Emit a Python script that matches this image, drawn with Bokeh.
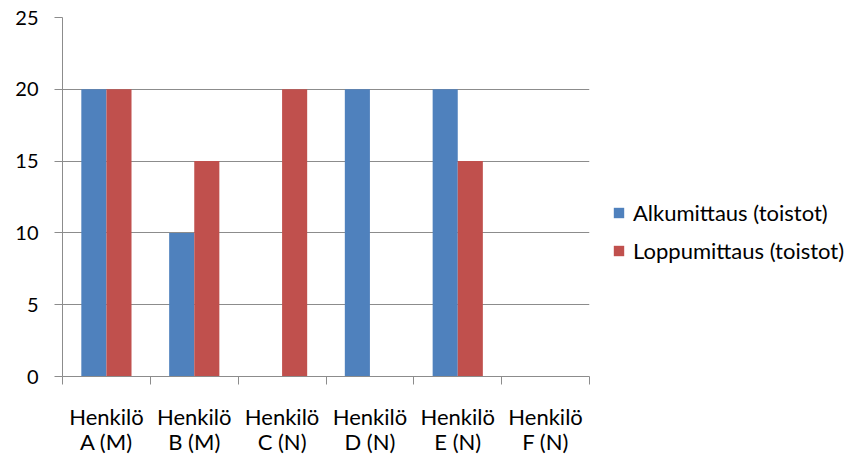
from bokeh.plotting import figure
from bokeh.models import (FixedTicker, Legend, LegendItem, ColumnDataSource, Range1d)
from bokeh.embed import file_html
from bokeh.resources import INLINE

categories = ["Henkilö\nA (M)", "Henkilö\nB (M)", "Henkilö\nC (N)",
              "Henkilö\nD (N)", "Henkilö\nE (N)", "Henkilö\nF (N)"]
series_names = ["Alkumittaus (toistot)", "Loppumittaus (toistot)"]
alku = [20, 10, 0, 20, 20, 0]
loppu = [20, 15, 20, 0, 15, 0]
y_ticks = [0, 5, 10, 15, 20, 25]

BLUE = "#4F81BD"
RED = "#C0504D"
GRID = "#8C8C8C"
FONT = "Lato"

n = len(categories)
centers = [i + 0.5 for i in range(n)]
bar_w = 1 / 3.5

p = figure(width=854, height=459, frame_width=527, frame_height=359,
           output_backend="svg", toolbar_location=None,
           x_range=Range1d(0, n), y_range=Range1d(0, 25),
           min_border_left=62, min_border_right=265, min_border_top=17,
           min_border_bottom=83)
p.outline_line_color = None
p.background_fill_color = "white"
p.border_fill_color = "white"

src = ColumnDataSource(dict(
    xa=[c - bar_w / 2 for c in centers],
    xl=[c + bar_w / 2 for c in centers],
    alku=alku, loppu=loppu))
r1 = p.vbar(x="xa", top="alku", width=bar_w, source=src, fill_color=BLUE, line_color=None)
r2 = p.vbar(x="xl", top="loppu", width=bar_w, source=src, fill_color=RED, line_color=None)

# x axis
xa = p.xaxis[0]
xa.ticker = FixedTicker(ticks=centers, minor_ticks=list(range(n + 1)))
xa.major_label_overrides = {c: lab for c, lab in zip(centers, categories)}
xa.major_tick_out = 0
xa.major_tick_in = 0
xa.minor_tick_out = 8
xa.minor_tick_in = 0
xa.minor_tick_line_color = GRID
xa.axis_line_color = GRID
xa.major_label_text_font = FONT
xa.major_label_text_font_size = "22px"
xa.major_label_text_line_height = 0.93
xa.major_label_text_color = "black"
xa.major_label_standoff = 18

# y axis
ya = p.yaxis[0]
ya.ticker = FixedTicker(ticks=y_ticks)
ya.major_tick_out = 8
ya.major_tick_in = 0
ya.minor_tick_out = 0
ya.minor_tick_in = 0
ya.major_tick_line_color = GRID
ya.axis_line_color = GRID
ya.major_label_text_font = FONT
ya.major_label_text_font_size = "20px"
ya.major_label_text_color = "black"
ya.major_label_standoff = 16

p.xgrid.grid_line_color = None
p.ygrid.grid_line_color = GRID
p.ygrid.ticker = FixedTicker(ticks=y_ticks)

legend = Legend(items=[LegendItem(label=series_names[0], renderers=[r1]),
                       LegendItem(label=series_names[1], renderers=[r2])],
                location=(23, 112), orientation="vertical")
legend.border_line_color = None
legend.background_fill_alpha = 0
legend.padding = 0
legend.margin = 0
legend.spacing = 11
legend.glyph_width = 13
legend.glyph_height = 13
legend.label_height = 22
legend.label_standoff = 8
legend.label_text_font = FONT
legend.label_text_font_size = "22px"
legend.label_text_color = "black"
p.add_layout(legend, "right")

open("out.html", "w").write(file_html(p, INLINE))
